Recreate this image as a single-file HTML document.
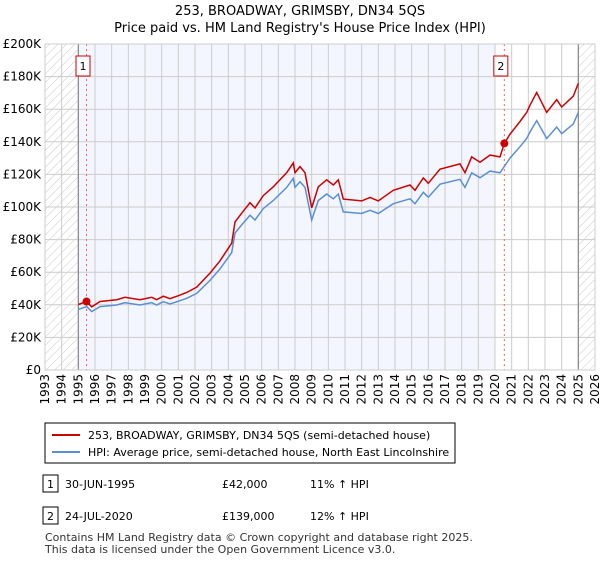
<!DOCTYPE html>
<html><head><meta charset="utf-8"><style>
body{margin:0;background:#fff;font-family:"Liberation Sans","DejaVu Sans",sans-serif;}
svg text{font-family:"DejaVu Sans","Liberation Sans",sans-serif;}
</style></head><body>
<svg id="c" width="600" height="560" viewBox="0 0 600 560" xmlns="http://www.w3.org/2000/svg">
<defs>
<pattern id="hatch" width="6" height="6" patternUnits="userSpaceOnUse" patternTransform="rotate(45)">
<line x1="0" y1="0" x2="0" y2="6" stroke="#bbb" stroke-width="0.8"/></pattern>
</defs>
<text x="300" y="15" text-anchor="middle" font-size="13">253, BROADWAY, GRIMSBY, DN34 5QS</text>
<text x="300" y="32" text-anchor="middle" font-size="13">Price paid vs. HM Land Registry's House Price Index (HPI)</text>
<g id="plot"></g>
<rect x="45" y="423" width="410" height="40" fill="#fff" stroke="#000" stroke-width="1"/>
<line x1="52" y1="435" x2="80" y2="435" stroke="#cc0000" stroke-width="2"/>
<text x="88" y="439" font-size="11">253, BROADWAY, GRIMSBY, DN34 5QS (semi-detached house)</text>
<line x1="52" y1="452" x2="80" y2="452" stroke="#5b8fd4" stroke-width="2"/>
<text x="88" y="456" font-size="11">HPI: Average price, semi-detached house, North East Lincolnshire</text>
<rect x="43" y="475" width="15" height="17" fill="#fff" stroke="#000"/>
<text x="50.5" y="488" font-size="11" text-anchor="middle">1</text>
<text x="65" y="488" font-size="11">30-JUN-1995</text>
<text x="222" y="488" font-size="11">£42,000</text>
<text x="310" y="488" font-size="11">11% ↑ HPI</text>
<rect x="43" y="507" width="15" height="17" fill="#fff" stroke="#000"/>
<text x="50.5" y="520" font-size="11" text-anchor="middle">2</text>
<text x="65" y="520" font-size="11">24-JUL-2020</text>
<text x="222" y="520" font-size="11">£139,000</text>
<text x="310" y="520" font-size="11">12% ↑ HPI</text>
<text x="45" y="541" font-size="11" fill="#333">Contains HM Land Registry data © Crown copyright and database right 2025.</text>
<text x="45" y="553" font-size="11" fill="#333">This data is licensed under the Open Government Licence v3.0.</text>
</svg>
<script>
const hpiYears=[1995.0,1995.5,1995.8,1996.3,1997.3,1997.8,1998.7,1999.4,1999.7,2000.1,2000.5,2001.1,2001.5,2002.1,2002.9,2003.5,2004.2,2004.4,2004.8,2005.3,2005.6,2006.1,2006.7,2007.0,2007.5,2007.9,2008.0,2008.3,2008.6,2009.0,2009.4,2009.9,2010.3,2010.6,2010.9,2012.0,2012.5,2013.0,2013.9,2014.9,2015.2,2015.7,2016.0,2016.7,2017.9,2018.2,2018.6,2019.1,2019.7,2020.3,2020.9,2021.5,2021.9,2022.1,2022.5,2023.1,2023.7,2024.0,2024.7,2025.0];
const hpiValues=[37.2,38.9,35.8,38.9,39.9,41.3,39.9,41.3,39.9,41.9,40.5,42.5,44,47,55,62,72,84,89,95,92,99,104,107,112,117.6,112,115.5,112,92,104,108,105,108,97,96,98,96,102,105,102,109,106,114,117,112,121,118,122,121,130,137,142,146,153,142,149,145,151,158];
const sales=[{year:1995.49,price:42},{year:2020.56,price:139}];
const yTicks=[0,20,40,60,80,100,120,140,160,180,200];
const yTickLabels=["£0","£20K","£40K","£60K","£80K","£100K","£120K","£140K","£160K","£180K","£200K"];
const xTicks=[1993,1994,1995,1996,1997,1998,1999,2000,2001,2002,2003,2004,2005,2006,2007,2008,2009,2010,2011,2012,2013,2014,2015,2016,2017,2018,2019,2020,2021,2022,2023,2024,2025,2026];

const X0=45,X1=595,Y0=370,Y1=44;
const xs=y=>X0+(y-1993)/(2026-1993)*(X1-X0);
const ys=v=>Y0-v/200*(Y0-Y1);
const NS="http://www.w3.org/2000/svg";
const g=document.getElementById('plot');
function mk(t,a){const e=document.createElementNS(NS,t);for(const k in a)e.setAttribute(k,a[k]);g.appendChild(e);return e;}
function hpiAt(y){for(let i=1;i<hpiYears.length;i++){if(y<=hpiYears[i]){const f=(y-hpiYears[i-1])/(hpiYears[i]-hpiYears[i-1]);return hpiValues[i-1]+f*(hpiValues[i]-hpiValues[i-1]);}}return hpiValues[hpiValues.length-1];}

let e=mk('rect',{x:X0,y:Y1,width:X1-X0,height:Y0-Y1,fill:'#fff'});


e=mk('rect',{x:xs(1995),y:Y1,width:xs(2020)-xs(1995),height:Y0-Y1,fill:'#f3f6fe'});


e=mk('rect',{x:X0,y:Y1,width:xs(1995)-X0,height:Y0-Y1,fill:'url(#hatch)'});


e=mk('rect',{x:xs(2025),y:Y1,width:X1-xs(2025),height:Y0-Y1,fill:'url(#hatch)'});


yTicks.forEach((v,i)=>{
 let l=mk('line',{x1:X0,x2:X1,y1:ys(v),y2:ys(v),stroke:'#ccc','stroke-width':1});
 
 
 let t=mk('text',{x:X0-4,y:ys(v)+4,'text-anchor':'end','font-size':12});
 t.textContent=yTickLabels[i];
 
 
});
xTicks.forEach(yr=>{
 let l=mk('line',{x1:xs(yr),x2:xs(yr),y1:Y1,y2:Y0,stroke:'#ccc','stroke-width':1});
 
 
 let t=mk('text',{x:0,y:0,'text-anchor':'end','font-size':12,transform:`translate(${xs(yr)+4},374) rotate(-90)`});
 t.textContent=yr;
 
 
});
[1995,2025].forEach(yr=>{
 let l=mk('line',{x1:xs(yr),x2:xs(yr),y1:Y1,y2:Y0,stroke:'#888','stroke-width':1.2});
 
 
});
let d=hpiYears.map((y,i)=>(i?'L':'M')+xs(y).toFixed(1)+','+ys(hpiValues[i]).toFixed(1)).join('');
e=mk('path',{d:d,fill:'none',stroke:'#5b8fd4','stroke-width':1.5});


const h1=hpiAt(sales[0].year),h2=hpiAt(sales[1].year);
let pts=[];
hpiYears.forEach((y,i)=>{const v=y<sales[1].year?sales[0].price*hpiValues[i]/h1:sales[1].price*hpiValues[i]/h2;pts.push([y,v]);});
pts.push([sales[1].year,sales[1].price]);pts.sort((a,b)=>a[0]-b[0]);
d=pts.map((p,i)=>(i?'L':'M')+xs(p[0]).toFixed(1)+','+ys(p[1]).toFixed(1)).join('');
e=mk('path',{d:d,fill:'none',stroke:'#cc0000','stroke-width':1.5});


sales.forEach((s,i)=>{
 let l=mk('line',{x1:xs(s.year),x2:xs(s.year),y1:Y1,y2:Y0,stroke:'#e66','stroke-width':1,'stroke-dasharray':'2,3'});
 
 
 let c=mk('circle',{cx:xs(s.year),cy:ys(s.price),r:4,fill:'#cc0000'});
 
 
 let b=mk('rect',{x:xs(s.year)-10.5,y:56,width:14,height:20,fill:'#fff',stroke:'#cc0000'});
 
 
 let t=mk('text',{x:xs(s.year)-3.5,y:70,'text-anchor':'middle','font-size':11});
 t.textContent=String(i+1);
 
 
});
e=mk('rect',{x:X0,y:Y1,width:X1-X0,height:Y0-Y1,fill:'none',stroke:'#ccc'});


</script>
</body></html>
